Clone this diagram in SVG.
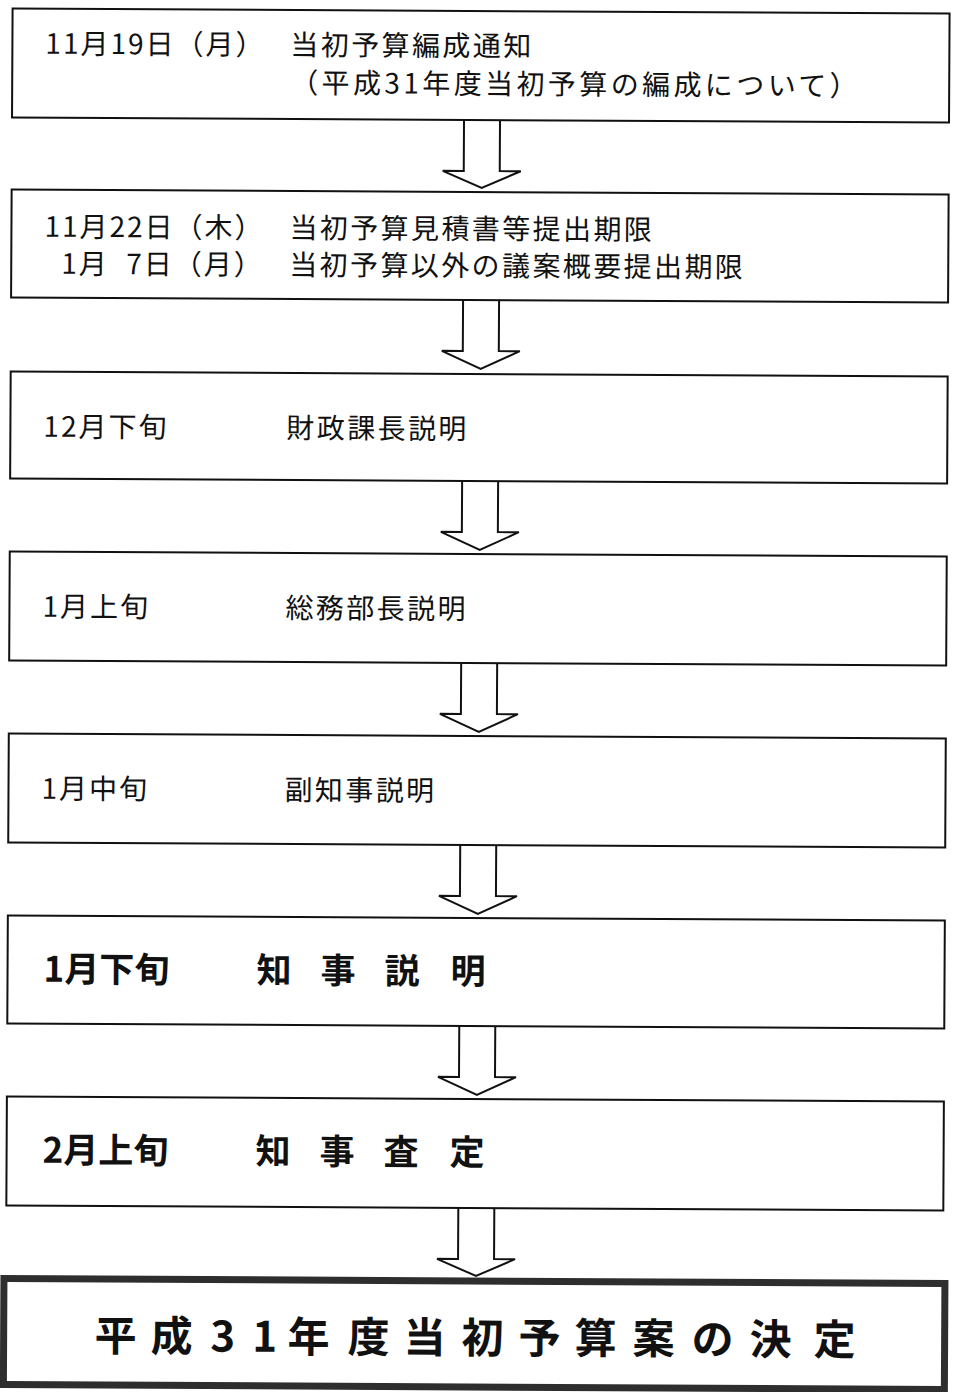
<svg xmlns="http://www.w3.org/2000/svg" width="956" height="1392" viewBox="0 0 956 1392">
<style>
.box{fill:#fff;stroke:#111;stroke-width:2}
.final{fill:#fff;stroke:#2e2e2e;stroke-width:7}
.t{font-family:"Noto Sans CJK JP","Noto Sans CJK SC",sans-serif;font-size:28px;fill:#111}
.d{letter-spacing:2px}
.s{letter-spacing:2.4px}
.s2{letter-spacing:3.4px}
.b{font-family:"Noto Sans CJK JP","Noto Sans CJK SC",sans-serif;font-size:35px;font-weight:bold;fill:#111}
.big{font-family:"Noto Sans CJK JP","Noto Sans CJK SC",sans-serif;font-size:42px;font-weight:bold;fill:#111}
.arr{fill:#fff;stroke:#111;stroke-width:2;stroke-linejoin:miter}
</style>
<rect width="956" height="1392" fill="#fff"/>
<g transform="rotate(0.3 478 696)">
<g id="connectors">
<polyline class="arr" points="461,120 461,171 440,171 479,188 518,171 497,171 497,120"/>
<polyline class="arr" points="461,300 461,351 440,351 479,369 518,351 497,351 497,300"/>
<polyline class="arr" points="461,481 461,532 440,532 479,550 518,532 497,532 497,481"/>
<polyline class="arr" points="461,663 461,714 440,714 479,732 518,714 497,714 497,663"/>
<polyline class="arr" points="461,845 461,896 440,896 479,914 518,896 497,896 497,845"/>
<polyline class="arr" points="461,1026 461,1077 440,1077 479,1095 518,1077 497,1077 497,1026"/>
<polyline class="arr" points="461,1208 461,1259 440,1259 479,1276 518,1259 497,1259 497,1208"/>
</g>
<g id="node1">
<rect class="box" x="9" y="11" width="937" height="109"/>
<text class="t d" x="42" y="56">11月19日（月）</text>
<text class="t s" x="287" y="56">当初予算編成通知</text>
<text class="t s2" x="287" y="94">（平成31年度当初予算の編成について）</text>
</g>
<g id="node2">
<rect class="box" x="9" y="192" width="937" height="108"/>
<text class="t d" x="42" y="239">11月22日（木）</text>
<text class="t d" y="276"><tspan x="59">1月</tspan><tspan x="124">7日（月）</tspan></text>
<text class="t s" x="287" y="239">当初予算見積書等提出期限</text>
<text class="t s" x="287" y="276">当初予算以外の議案概要提出期限</text>
</g>
<g id="node3">
<rect class="box" x="9" y="374" width="937" height="107"/>
<text class="t d" x="42" y="439">12月下旬</text>
<text class="t s" x="285" y="439">財政課長説明</text>
</g>
<g id="node4">
<rect class="box" x="9" y="554" width="937" height="109"/>
<text class="t d" x="42" y="619">1月上旬</text>
<text class="t s" x="285" y="619">総務部長説明</text>
</g>
<g id="node5">
<rect class="box" x="9" y="736" width="937" height="109"/>
<text class="t d" x="42" y="801">1月中旬</text>
<text class="t s" x="285" y="801">副知事説明</text>
</g>
<g id="node6">
<rect class="box" x="9" y="918" width="937" height="108"/>
<text class="b" x="45" y="984">1月下旬</text>
<text class="b" x="258 322 386 452" y="984">知事説明</text>
</g>
<g id="node7">
<rect class="box" x="9" y="1099" width="937" height="109"/>
<text class="b" x="45" y="1165">2月上旬</text>
<text class="b" x="258 322 386 452" y="1165">知事査定</text>
</g>
<g id="node8">
<rect class="final" x="7" y="1281" width="941" height="106"/>
<text class="big" text-anchor="middle" x="119 175 226 268 312 372 428 486 543 599 657 716 774 838" y="1353">平成31年度当初予算案の決定</text>
</g>
</g>
</svg>
